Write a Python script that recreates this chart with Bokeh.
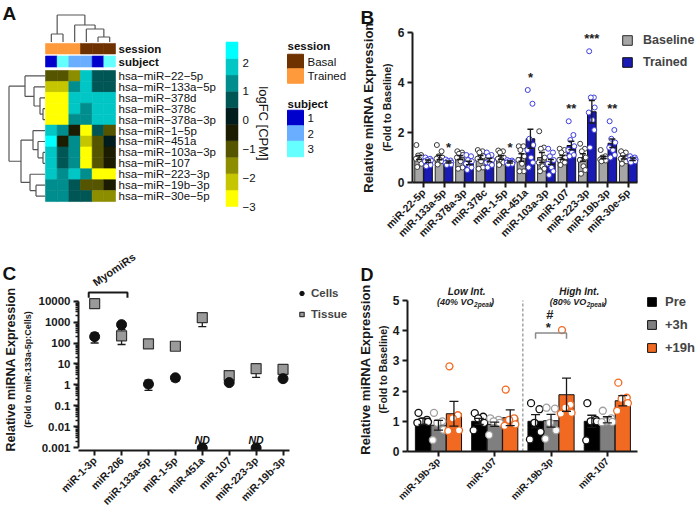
import math
from bokeh.plotting import figure
from bokeh.models import (Range1d, FixedTicker, Legend, LegendItem, Whisker, TeeHead,
                          ColumnDataSource, NumeralTickFormatter, LinearColorMapper,
                          LinearAxis, LogAxis)
from bokeh.layouts import row, column
from bokeh.embed import file_html
from bokeh.resources import INLINE
from bokeh.core.properties import value

FONT = "Liberation Sans"

# ---------------- Panel A data ----------------
heat_rows = ["hsa−miR−22−5p", "hsa−miR−133a−5p", "hsa−miR−378d", "hsa−miR−378c",
             "hsa−miR−378a−3p", "hsa−miR−1−5p", "hsa−miR−451a", "hsa−miR−103a−3p",
             "hsa−miR−107", "hsa−miR−223−3p", "hsa−miR−19b−3p", "hsa−miR−30e−5p"]
heat_session = ["Trained", "Trained", "Trained", "Basal", "Basal", "Basal"]
heat_subject = ["1", "3", "2", "2", "1", "3"]
heat_logfc = [
    [-1.0, -1.0, -1.6, 1.85, 0.7, 0.7],
    [-2.15, -2.15, 1.3, 1.85, 0.7, 0.7],
    [-2.7, -2.7, 1.85, 1.85, 1.85, 1.85],
    [-2.7, -2.7, 1.85, 1.3, 1.85, 1.85],
    [-2.7, -2.7, 1.3, 1.3, 1.85, 1.85],
    [1.85, 1.3, -0.45, -2.7, 0.7, -1.0],
    [2.4, -0.45, 1.3, -2.15, -1.0, 0.15],
    [1.85, 0.7, 1.3, -2.7, -1.0, -0.45],
    [1.85, 0.7, 1.3, -2.7, -1.0, -0.45],
    [1.85, 1.3, 1.85, 1.3, -2.7, -2.7],
    [1.3, 1.3, 0.7, -1.0, -1.0, -0.45],
    [1.3, 1.3, 0.7, 0.7, -1.6, -1.6],
]
heat_palette = ["#FFFF00", "#C6C600", "#8D8D00", "#555500", "#1C1C00",
                "#001C1C", "#005555", "#008D8D", "#00C6C6", "#00FFFF"]
heat_low, heat_high = -3.0, 2.72
heat_ticks = [2, 1, 0, -1, -2, -3]
session_colors = {"Basal": "#6E3200", "Trained": "#FF9A3C"}
subject_colors = {"1": "#0000CC", "2": "#6AAEFF", "3": "#66FFFF"}
# dendrograms: (left, right, merge height)
col_tree = ((0, 1, 8), (2, (3, (4, 5, 5), 13), 17), 27)
row_tree = ((0, (1, (2, (3, 4, 2), 5), 11), 20),
            ((5, (6, (7, 8, 2), 7), 12), (9, (10, 11, 9), 15), 24), 36)

# ---------------- Panel B data ----------------
b_names = ["miR-22-5p", "miR-133a-5p", "miR-378a-3p", "miR-378c", "miR-1-5p", "miR-451a",
           "miR-103a-3p", "miR-107", "miR-223-3p", "miR-19b-3p", "miR-30e-5p"]
b_series = ["Baseline", "Trained"]
b_base_mean = [1.0, 1.0, 1.0, 1.0, 1.0, 1.0, 1.0, 1.0, 1.0, 1.0, 1.0]
b_base_sem = [0.08, 0.09, 0.08, 0.08, 0.07, 0.15, 0.2, 0.08, 0.15, 0.05, 0.06]
b_train_mean = [0.85, 0.82, 0.78, 0.9, 0.82, 1.75, 0.82, 1.48, 2.83, 1.57, 0.93]
b_train_sem = [0.05, 0.04, 0.07, 0.07, 0.04, 0.38, 0.1, 0.17, 0.45, 0.17, 0.05]
b_base_pts = [
    [1.5, 1.1, 1.08, 1.0, 0.95, 0.9, 0.75, 0.62],
    [1.5, 1.25, 1.05, 1.0, 0.95, 0.9, 0.85, 0.72],
    [1.25, 1.2, 1.15, 1.1, 1.0, 0.85, 0.6, 0.55],
    [1.3, 1.25, 1.2, 1.05, 0.95, 0.85, 0.6, 0.55],
    [1.28, 1.25, 1.2, 1.0, 0.95, 0.9, 0.8, 0.7],
    [1.45, 1.45, 1.3, 1.05, 0.9, 0.75, 0.45, 0.45],
    [2.05, 1.4, 1.35, 1.0, 0.8, 0.65, 0.55, 0.45],
    [1.35, 1.3, 1.2, 1.0, 0.9, 0.85, 0.8, 0.7],
    [1.55, 1.35, 1.25, 1.0, 0.9, 0.65, 0.5, 0.35],
    [1.3, 1.05, 1.0, 0.95, 0.92, 0.9, 0.88, 0.85],
    [1.25, 1.2, 1.1, 1.0, 0.95, 0.9, 0.85, 0.75],
]
b_train_pts = [
    [1.0, 0.95, 0.9, 0.88, 0.85, 0.8, 0.7, 0.65],
    [0.92, 0.88, 0.85, 0.8, 0.78, 0.75, 0.72, 0.7],
    [1.1, 1.05, 0.9, 0.85, 0.75, 0.65, 0.6, 0.5],
    [1.2, 1.1, 1.05, 0.9, 0.8, 0.75, 0.7, 0.6],
    [0.9, 0.88, 0.85, 0.82, 0.8, 0.78, 0.75, 0.72],
    [3.7, 3.15, 1.75, 1.5, 1.3, 1.0, 0.8, 0.6],
    [1.35, 1.2, 1.05, 0.9, 0.75, 0.6, 0.45, 0.3],
    [2.45, 1.9, 1.7, 1.45, 1.3, 1.2, 1.1, 1.05],
    [5.25, 3.4, 3.4, 3.0, 2.8, 2.5, 2.1, 1.4],
    [2.45, 2.1, 1.75, 1.6, 1.4, 1.3, 1.1, 1.0],
    [1.05, 1.0, 0.95, 0.92, 0.9, 0.88, 0.85, 0.8],
]
b_sig = ["", "*", "", "", "*", "*", "", "**", "***", "**", ""]

# ---------------- Panel C data ----------------
c_names = ["miR-1-3p", "miR-206", "miR-133a-5p", "miR-1-5p", "miR-451a", "miR-107",
           "miR-223-3p", "miR-19b-3p"]
c_series = ["Cells", "Tissue"]
c_cells = [200, 750, 1.1, 2.2, 0.001, 1.3, 0.001, 2.0]
c_cells_lo = [100, 600, 0.55, 1.5, 0.001, 1.2, 0.001, 1.8]
c_cells_hi = [300, 900, 1.7, 2.6, 0.001, 1.4, 0.001, 2.2]
c_cells_nd = [False, False, False, False, True, False, True, False]
c_tissue = [7500, 220, 90, 70, 1600, 2.8, 6.0, 5.5]
c_tissue_lo = [7500, 85, 85, 50, 600, 2.0, 2.3, 3.6]
c_tissue_hi = [7500, 450, 95, 100, 2500, 3.5, 8.0, 7.0]
c_group = ["miR-1-3p", "miR-206"]          # MyomiRs bracket

# ---------------- Panel D data ----------------
d_names = ["miR-19b-3p", "miR-107", "miR-19b-3p", "miR-107"]
d_series = ["Pre", "+3h", "+19h"]
d_pre = [1.0, 1.0, 1.0, 1.0]
d_pre_sem = [0.1, 0.1, 0.22, 0.2]
d_3h = [0.87, 0.9, 1.02, 1.05]
d_3h_sem = [0.16, 0.07, 0.21, 0.1]
d_19h = [1.25, 1.12, 1.88, 1.68]
d_19h_sem = [0.41, 0.26, 0.55, 0.17]
d_pre_pts = [[1.28, 1.05, 1.0, 0.98, 0.95], [1.27, 1.15, 1.1, 0.95, 0.7],
             [1.6, 1.4, 0.95, 0.65, 0.4], [1.6, 1.05, 1.0, 1.0, 0.37]]
d_3h_pts = [[1.28, 1.0, 0.95, 0.72, 0.38], [1.1, 1.05, 1.0, 0.95, 0.55],
            [1.45, 1.42, 0.95, 0.7, 0.42], [1.35, 1.1, 1.0, 0.98, 0.97]]
d_19h_pts = [[2.82, 1.2, 1.1, 0.7, 0.68], [2.05, 1.1, 1.05, 0.9, 0.85],
             [4.02, 1.55, 1.45, 1.28, 1.25], [2.28, 1.78, 1.75, 1.6, 1.35]]

W = 349
INK = "#1a1a1a"


def base_fig(height, **kw):
    p = figure(width=W, height=height, toolbar_location=None, output_backend="svg", **kw)
    p.grid.visible = False
    p.outline_line_color = None
    p.background_fill_color = "white"
    p.border_fill_color = "white"
    p.frame_align = False
    return p


def style_axes(p, tick_size="12px"):
    for ax in p.axis:
        ax.axis_line_width = 2
        ax.axis_line_color = INK
        ax.major_tick_line_width = 2
        ax.major_tick_line_color = INK
        ax.major_tick_out = 5
        ax.major_tick_in = 0
        ax.minor_tick_line_color = None
        ax.major_label_text_font = FONT
        ax.major_label_text_font_style = "bold"
        ax.major_label_text_font_size = tick_size
        ax.major_label_text_color = INK
        ax.major_label_standoff = 3


def add_ylabels(p, main, sub, sub_size, bounds, log=False, sub_standoff=2, main_standoff=2,
                main_size="13px"):
    ya = p.yaxis[0]
    ya.bounds = bounds
    ya.axis_label = sub
    ya.axis_label_text_font = FONT
    ya.axis_label_text_font_style = "bold"
    ya.axis_label_text_font_size = sub_size
    ya.axis_label_text_color = INK
    ya.axis_label_standoff = sub_standoff
    cls = LogAxis if log else LinearAxis
    ax = cls(axis_label=main, ticker=FixedTicker(ticks=[]), bounds=bounds)
    ax.axis_line_color = None
    ax.major_tick_line_color = None
    ax.minor_tick_line_color = None
    ax.major_tick_out = 0
    ax.major_label_text_font_size = "0px"
    ax.axis_label_text_font = FONT
    ax.axis_label_text_font_style = "bold"
    ax.axis_label_text_font_size = main_size
    ax.axis_label_text_color = INK
    ax.axis_label_standoff = main_standoff
    p.add_layout(ax, "left")


def set_letter(p, letter, offset, standoff, size="19px"):
    p.title.text = letter
    p.title.text_font = FONT
    p.title.text_font_size = size
    p.title.text_font_style = "bold"
    p.title.text_color = "#111111"
    p.title.align = "left"
    p.title.offset = offset
    p.title.standoff = standoff


def add_whiskers(p, xs_, lo, hi, size, level="annotation"):
    src = ColumnDataSource(dict(x=xs_, lo=lo, hi=hi))
    wk = Whisker(base="x", lower="lo", upper="hi", source=src, line_color=INK,
                 line_width=1.3, level=level)
    wk.upper_head = TeeHead(size=size, line_width=1.3, line_color=INK)
    wk.lower_head = TeeHead(size=size, line_width=1.3, line_color=INK)
    p.add_layout(wk)


# ================= Panel A (+ letter C / MyomiRs caption area) =================
pA = base_fig(288, x_range=Range1d(0, 349), y_range=Range1d(288, 0),
              x_axis_location=None, y_axis_location=None, min_border=0,
              min_border_left=0, min_border_right=0, min_border_top=0, min_border_bottom=0)
cx0, cw, ry0, rh = 45.0, 11.67, 70.0, 10.92
mapper = LinearColorMapper(palette=heat_palette, low=heat_low, high=heat_high)
hx, hy, hv = [], [], []
for i, r_ in enumerate(heat_logfc):
    for j, v in enumerate(r_):
        hx.append(cx0 + cw * (j + 0.5))
        hy.append(ry0 + rh * (i + 0.5))
        hv.append(v)
pA.rect("x", "y", width=cw, height=rh, source=ColumnDataSource(dict(x=hx, y=hy, v=hv)),
        fill_color={"field": "v", "transform": mapper},
        line_color={"field": "v", "transform": mapper}, line_width=0.6)
ncol = len(heat_session)
colx = [cx0 + cw * (j + 0.5) for j in range(ncol)]
pA.rect(colx, [48.2] * ncol, width=cw, height=10.5,
        fill_color=[session_colors[s] for s in heat_session],
        line_color=[session_colors[s] for s in heat_session], line_width=0.6)
pA.rect(colx, [61.0] * ncol, width=cw, height=11,
        fill_color=[subject_colors[s] for s in heat_subject],
        line_color=[subject_colors[s] for s in heat_subject], line_width=0.6)
rowy = [ry0 + rh * (i + 0.5) for i in range(len(heat_rows))]
pA.text([118] * len(heat_rows), rowy, text=heat_rows, text_font=value(FONT),
        text_font_size="11.5px", text_baseline="middle", text_color="#111111")
pA.text([118, 118], [48.5, 61.5], text=["session", "subject"], text_font=value(FONT),
        text_font_size="11.5px", text_font_style="bold", text_baseline="middle",
        text_color="#111111")


def build_tree(node, leaf_pos, segs):
    if isinstance(node, int):
        return leaf_pos[node], 0.0
    l, r, h = node
    pl, hl = build_tree(l, leaf_pos, segs)
    pr, hr = build_tree(r, leaf_pos, segs)
    segs.append((pl, hl, pl, h))
    segs.append((pr, hr, pr, h))
    segs.append((pl, h, pr, h))
    return (pl + pr) / 2.0, h


segs = []
build_tree(col_tree, colx, segs)
pA.segment([s[0] for s in segs], [41.5 - s[1] for s in segs],
           [s[2] for s in segs], [41.5 - s[3] for s in segs], line_color="#555555", line_width=1.2)
segs = []
build_tree(row_tree, rowy, segs)
pA.segment([44.5 - s[1] for s in segs], [s[0] for s in segs],
           [44.5 - s[3] for s in segs], [s[2] for s in segs], line_color="#555555", line_width=1.2)

# colour key
cb_x, cb_top, cb_bot = 231.5, 41.5, 206.0
n = len(heat_palette)
step = (heat_high - heat_low) / n


def cb_y(v):
    return cb_bot - (v - heat_low) / (heat_high - heat_low) * (cb_bot - cb_top)


pA.rect([cb_x] * n, [cb_y(heat_low + step * (k + 0.5)) for k in range(n)], width=12,
        height=(cb_bot - cb_top) / n, fill_color=heat_palette, line_color=heat_palette,
        line_width=0.5)
pA.text([242] * len(heat_ticks), [cb_y(t) for t in heat_ticks],
        text=[str(t).replace("-", "−") for t in heat_ticks], text_font=value(FONT),
        text_font_size="11.5px", text_baseline="middle", text_color="#111111")
pA.text([263], [123], text=["logFC [CPM]"], angle=-math.pi / 2, text_font=value(FONT),
        text_font_size="13px", text_align="center", text_baseline="middle",
        text_color="#111111")
# annotation legend
pA.text([287, 287], [45, 103], text=["session", "subject"], text_font=value(FONT),
        text_font_size="11.5px", text_font_style="bold", text_baseline="middle",
        text_color="#111111")
sess_keys = ["Basal", "Trained"]
subj_keys = ["1", "2", "3"]
pA.rect([295] * 2, [61 + 14.5 * k for k in range(2)], width=16, height=14.5,
        fill_color=[session_colors[k] for k in sess_keys],
        line_color=[session_colors[k] for k in sess_keys])
pA.text([307] * 2, [61 + 14.5 * k for k in range(2)], text=sess_keys, text_font=value(FONT),
        text_font_size="11.5px", text_baseline="middle", text_color="#111111")
pA.rect([295] * 3, [117.5 + 15.5 * k for k in range(3)], width=16, height=15.5,
        fill_color=[subject_colors[k] for k in subj_keys],
        line_color=[subject_colors[k] for k in subj_keys])
pA.text([307] * 3, [117.5 + 15.5 * k for k in range(3)], text=subj_keys,
        text_font=value(FONT), text_font_size="11.5px", text_baseline="middle",
        text_color="#111111")
pA.text([2, 2], [2, 262], text=["A", "C"], text_font=value(FONT), text_font_size="19px",
        text_font_style="bold", text_baseline="top", text_color="#111111")
# caption of the MyomiRs bracket of panel C (sits just above panel C's plot)
pA.text([97], [288], text=["MyomiRs"], angle=math.radians(35), text_font=value(FONT),
        text_font_size="11px", text_font_style="bold", text_baseline="bottom",
        text_color=INK)

# ================= Panel B =================
nb = len(b_names)
pB = base_fig(257, x_range=Range1d(-0.54, 13.43), y_range=Range1d(0, 6),
              min_border_left=63, min_border_right=0, min_border_top=32, min_border_bottom=75)
off = 0.22
bw = 0.42
xb0 = [i - off for i in range(nb)]
xb1 = [i + off for i in range(nb)]
r_base = pB.vbar(x=xb0, top=b_base_mean, width=bw, fill_color="#A6A6A6",
                 line_color="#2a2a2a", line_width=1)
r_train = pB.vbar(x=xb1, top=b_train_mean, width=bw, fill_color="#1A1AB4",
                  line_color="#111111", line_width=1)
for xs_, m_, s_ in ((xb0, b_base_mean, b_base_sem), (xb1, b_train_mean, b_train_sem)):
    add_whiskers(pB, xs_, [a - b for a, b in zip(m_, s_)], [a + b for a, b in zip(m_, s_)], 6)
jit8 = [-0.13, 0.1, -0.05, 0.14, -0.15, 0.03, 0.12, -0.09]
for centers, pts, col in ((xb0, b_base_pts, "#3a3a3a"), (xb1, b_train_pts, "#3E3EE0")):
    px, py = [], []
    for c, vals in zip(centers, pts):
        for k, v in enumerate(vals):
            px.append(c + jit8[k % len(jit8)])
            py.append(v)
    pB.scatter(px, py, marker="circle", size=5, fill_color="white", line_color=col,
               line_width=1)
sx, sy, st = [], [], []
for i, s in enumerate(b_sig):
    if s:
        sx.append(xb1[i])
        sy.append(max(b_train_pts[i]) + 0.5)
        st.append(s)
pB.text(sx, sy, text=st, text_font=value(FONT), text_font_size="13px",
        text_font_style="bold", text_align="center", text_baseline="middle",
        text_color="#222222")
style_axes(pB)
pB.yaxis.ticker = FixedTicker(ticks=[0, 2, 4, 6])
pB.xaxis.ticker = FixedTicker(ticks=list(range(nb)))
pB.xaxis.bounds = (-0.54, 10.45)
pB.xaxis.major_label_overrides = {i: n_ for i, n_ in enumerate(b_names)}
pB.xaxis.major_label_orientation = math.pi / 4
pB.xaxis.major_label_text_font_size = "10.5px"
add_ylabels(pB, "Relative miRNA Expression", "(Fold to Baseline)", "10.5px", (0, 6))
set_letter(pB, "B", -52, 9)
legB = Legend(items=[LegendItem(label=b_series[0], renderers=[r_base]),
                     LegendItem(label=b_series[1], renderers=[r_train])],
              location=(209, 113), glyph_width=12, glyph_height=12, label_height=12,
              spacing=8, padding=0, margin=0, label_standoff=10,
              label_text_font=FONT, label_text_font_style="bold", label_text_font_size="12.5px",
              background_fill_alpha=0, border_line_color=None)
pB.add_layout(legB)

# ================= Panel C =================
nc = len(c_names)
ylo_c = 10 ** -3.12
pC = base_fig(226, x_range=Range1d(-0.6, 9.47), y_range=Range1d(ylo_c, 10 ** 4.596),
              y_axis_type="log",
              min_border_left=77, min_border_right=0, min_border_top=0, min_border_bottom=61)
xc = list(range(nc))
add_whiskers(pC, xc, c_tissue_lo, c_tissue_hi, 8, level="underlay")
add_whiskers(pC, [x for x, nd in zip(xc, c_cells_nd) if not nd],
             [v for v, nd in zip(c_cells_lo, c_cells_nd) if not nd],
             [v for v, nd in zip(c_cells_hi, c_cells_nd) if not nd], 8, level="underlay")
r_tis = pC.scatter(xc, c_tissue, marker="square", size=10, fill_color="#9A9A9A",
                   line_color="#333333", line_width=1.2)
r_cel = pC.scatter(xc, c_cells, marker="circle", size=10, fill_color="#111111",
                   line_color="#111111")
ndx = [x for x, nd in zip(xc, c_cells_nd) if nd]
pC.text(ndx, [0.0023] * len(ndx), text=["ND"] * len(ndx), text_font=value(FONT),
        text_font_size="10.5px", text_font_style="bold italic", text_align="center",
        text_baseline="middle", text_color="#111111")
# MyomiRs bracket over the first two microRNAs
gi = [c_names.index(g) for g in c_group]
bx0, bx1 = min(gi) - 0.22, max(gi) + 0.22
by_hi, by_lo = 10 ** 4.41, 10 ** 4.155
pC.multi_line([[bx0, bx0, bx1, bx1]], [[by_lo, by_hi, by_hi, by_lo]], line_color=INK,
              line_width=2)
style_axes(pC, tick_size="11.5px")
pC.yaxis.ticker = FixedTicker(ticks=[10.0 ** e for e in range(-3, 5)],
                              minor_ticks=[k * 10.0 ** e for e in range(-3, 4) for k in range(2, 10)])
pC.yaxis.formatter = NumeralTickFormatter(format="0.[000]")
pC.yaxis.minor_tick_line_color = INK
pC.yaxis.minor_tick_line_width = 1.5
pC.yaxis.minor_tick_out = 3
pC.yaxis.minor_tick_in = 0
pC.xaxis.ticker = FixedTicker(ticks=xc)
pC.xaxis.bounds = (-0.6, 7.25)
pC.xaxis.major_label_overrides = {i: n_ for i, n_ in enumerate(c_names)}
pC.xaxis.major_label_orientation = math.pi / 4
pC.xaxis.major_label_text_font_size = "10.5px"
add_ylabels(pC, "Relative miRNA Expression", "(Fold to miR-133a-5p:Cells)", "9px",
            (0.001, 10000), log=True, sub_standoff=3, main_standoff=2, main_size="12.5px")
legC = Legend(items=[LegendItem(label=c_series[0], renderers=[r_cel]),
                     LegendItem(label=c_series[1], renderers=[r_tis])],
              location=(218, 130), glyph_width=11, glyph_height=12, label_height=12,
              spacing=9, padding=0, margin=0, label_standoff=4,
              label_text_font=FONT, label_text_font_style="bold", label_text_font_size="11.5px",
              background_fill_alpha=0, border_line_color=None)
pC.add_layout(legC)

# ================= Panel D =================
nd_ = len(d_names)
pD = base_fig(257, x_range=Range1d(-0.55, 4.62), y_range=Range1d(0, 5.43),
              min_border_left=58, min_border_right=0, min_border_top=30, min_border_bottom=63)
d_off = [-0.275, 0.0, 0.275]
d_w = 0.27
d_fill = ["#000000", "#7F7F7F", "#F26A21"]
d_pt_col = ["#111111", "#A0A0A0", "#F26A21"]
d_means = [d_pre, d_3h, d_19h]
d_sems = [d_pre_sem, d_3h_sem, d_19h_sem]
d_pts = [d_pre_pts, d_3h_pts, d_19h_pts]
pD.segment([1.5], [0], [1.5], [5], line_dash="3 2", line_color="#777777", line_width=1)
d_rend = []
jit5 = [-0.08, 0.07, -0.02, 0.09, -0.1]
for k in range(3):
    xs_ = [i + d_off[k] for i in range(nd_)]
    r = pD.vbar(x=xs_, top=d_means[k], width=d_w, fill_color=d_fill[k],
                line_color="#111111", line_width=1)
    d_rend.append(r)
    add_whiskers(pD, xs_, [a - b for a, b in zip(d_means[k], d_sems[k])],
                 [a + b for a, b in zip(d_means[k], d_sems[k])], 9)
for k in range(3):
    px, py = [], []
    for i, vals in enumerate(d_pts[k]):
        for j, v in enumerate(vals):
            px.append(i + d_off[k] + jit5[j])
            py.append(v)
    pD.scatter(px, py, marker="circle", size=7, fill_color="white", line_color=d_pt_col[k],
               line_width=1.3)
# comparison bracket (High Int., miR-19b-3p: Pre vs +19h)
gx = 2
yb = max(d_19h_pts[gx]) - 0.1
pD.multi_line([[gx + d_off[0], gx + d_off[0], gx + d_off[2], gx + d_off[2]]],
              [[yb - 0.19, yb, yb, yb - 0.19]], line_color="#8a8a8a", line_width=1.5)
pD.text([gx - 0.05, gx - 0.02], [yb + 0.17, yb + 0.6], text=["*", "#"], text_font=value(FONT),
        text_font_size="13px", text_font_style="bold", text_align="center",
        text_baseline="middle", text_color="#222222")
style_axes(pD)
pD.yaxis.ticker = FixedTicker(ticks=[0, 1, 2, 3, 4, 5])
pD.xaxis.ticker = FixedTicker(ticks=list(range(nd_)))
pD.xaxis.bounds = (-0.55, 3.53)
pD.xaxis.major_label_overrides = {i: n_ for i, n_ in enumerate(d_names)}
pD.xaxis.major_label_orientation = math.pi / 4
pD.xaxis.major_label_text_font_size = "10px"
add_ylabels(pD, "Relative miRNA Expression", "(Fold to Baseline)", "10.5px", (0, 5),
            sub_standoff=1, main_standoff=1)
set_letter(pD, "D", -47, 6, size="18px")
for cx, t1, pct in ((0.5, "Low Int.", "(40% VO"), (2.5, "High Int.", "(80% VO")):
    pD.text([cx], [5.3], text=[t1], text_font=value(FONT), text_font_size="10px",
            text_font_style="bold italic", text_align="center", text_baseline="middle",
            text_color=INK)
    pD.text([cx], [4.95], x_offset=7, text=[pct], text_font=value(FONT), text_font_size="9px",
            text_font_style="bold italic", text_align="right", text_baseline="middle",
            text_color=INK)
    pD.text([cx], [4.95], x_offset=7.5, y_offset=3, text=["2peak"], text_font=value(FONT),
            text_font_size="6.5px", text_font_style="bold italic", text_align="left",
            text_baseline="middle", text_color=INK)
    pD.text([cx], [4.95], x_offset=24.5, text=[")"], text_font=value(FONT),
            text_font_size="9px", text_font_style="bold italic", text_align="left",
            text_baseline="middle", text_color=INK)
legD = Legend(items=[LegendItem(label=s, renderers=[r]) for s, r in zip(d_series, d_rend)],
              location=(239, 96), glyph_width=11, glyph_height=11, label_height=11,
              spacing=8, padding=0, margin=0, label_standoff=8,
              label_text_font=FONT, label_text_font_style="bold", label_text_font_size="13px",
              background_fill_alpha=0, border_line_color=None)
pD.add_layout(legD)

layout = row(column(pA, pC), column(pB, pD))
open("out.html", "w").write(file_html(layout, INLINE))
